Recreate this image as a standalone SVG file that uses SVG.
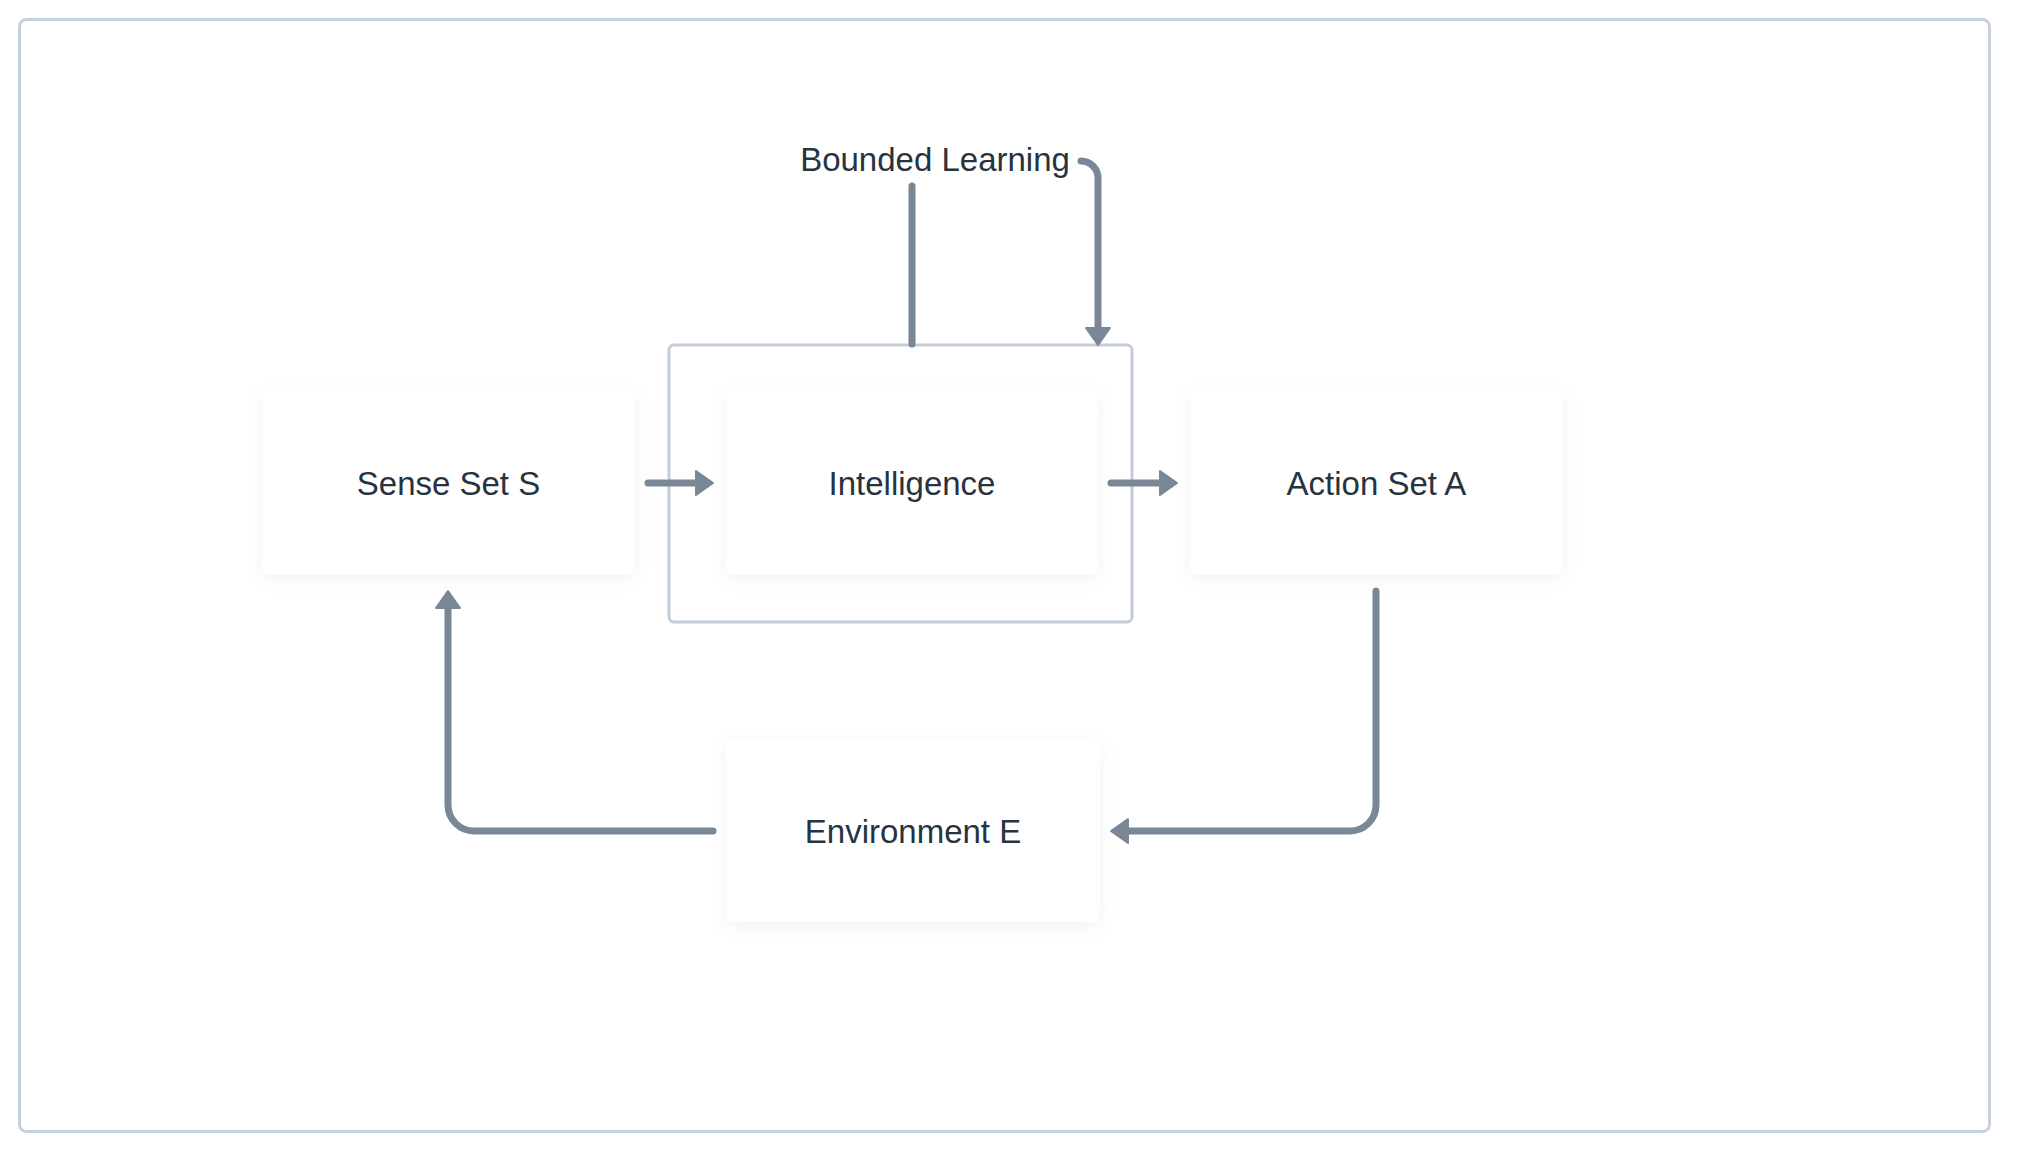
<svg xmlns="http://www.w3.org/2000/svg" width="2040" height="1152" viewBox="0 0 2040 1152">
<style>
.node{fill:#ffffff;filter:url(#sh);}
.lbl{font-family:"Liberation Sans",Arial,sans-serif;font-size:33px;fill:#263441;text-anchor:middle;}
.conn{fill:none;stroke:#7a8896;stroke-width:7;stroke-linecap:round;stroke-linejoin:round;}
.head{fill:#7a8896;stroke:#7a8896;stroke-width:2;stroke-linejoin:round;}
</style>
<defs>
<filter id="sh" x="-20%" y="-20%" width="140%" height="140%">
<feDropShadow dx="0" dy="4" stdDeviation="8" flood-color="#8a96a3" flood-opacity="0.12"/>
</filter>
</defs>
<rect x="0" y="0" width="2040" height="1152" fill="#ffffff"/>
<rect id="frame" x="19.5" y="19.5" width="1970" height="1112" rx="7" fill="#ffffff" stroke="#c6d1db" stroke-width="3"/>
<g id="intelligence-container">
<rect x="669" y="345" width="463" height="277" rx="5" fill="none" stroke="#c2cdd8" stroke-width="3"/>
</g>
<g id="sense">
<rect class="node" x="262" y="390" width="373" height="185" rx="9"/>
<text class="lbl" x="448.5" y="495">Sense Set S</text>
</g>
<g id="intelligence">
<rect class="node" x="726" y="390" width="372" height="185" rx="9"/>
<text class="lbl" x="912" y="495">Intelligence</text>
</g>
<g id="action">
<rect class="node" x="1190" y="390" width="373" height="185" rx="9"/>
<text class="lbl" x="1376.5" y="495">Action Set A</text>
</g>
<g id="environment">
<rect class="node" x="726" y="738" width="374" height="184" rx="9"/>
<text class="lbl" x="913" y="843">Environment E</text>
</g>
<g id="bounded-learning">
<text class="lbl" x="935" y="171">Bounded Learning</text>
</g>
<g id="connectors">
<path class="conn" d="M912,186 L912,344"/>
<path class="conn" d="M1081,161 A17,17 0 0 1 1098,178 L1098,330"/>
<path class="head" d="M1086,328 L1110,328 L1098,345 Z"/>
<path class="conn" d="M648,483 L698,483"/>
<path class="head" d="M696,471 L696,495 L713,483 Z"/>
<path class="conn" d="M1111,483 L1162,483"/>
<path class="head" d="M1160,471 L1160,495 L1177,483 Z"/>
<path class="conn" d="M1376,591 L1376,805 A26,26 0 0 1 1350,831 L1126,831"/>
<path class="head" d="M1128,819 L1128,843 L1111,831 Z"/>
<path class="conn" d="M713,831 L474,831 A26,26 0 0 1 448,805 L448,606"/>
<path class="head" d="M436,608 L460,608 L448,591 Z"/>
</g>
</svg>
